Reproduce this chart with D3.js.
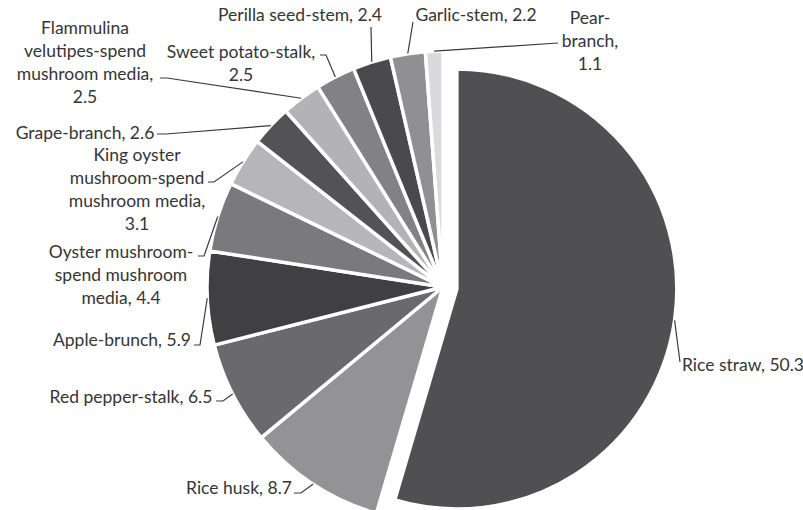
<!DOCTYPE html>
<meta charset='utf-8'>
<body style='margin:0;background:#fff'>
<script src='https://d3js.org/d3.v7.min.js'></script>
<script>
  const categories = ['Rice straw', 'Rice husk', 'Red pepper-stalk', 'Apple-brunch',
    'Oyster mushroom-spend mushroom media', 'King oyster mushroom-spend mushroom media',
    'Grape-branch', 'Flammulina velutipes-spend mushroom media', 'Sweet potato-stalk',
    'Perilla seed-stem', 'Garlic-stem', 'Pear-branch'];
  const values = [50.3, 8.7, 6.5, 5.9, 4.4, 3.1, 2.6, 2.5, 2.5, 2.4, 2.2, 1.1];
  const labelLines = [
    ['Rice straw, 50.3'],
    ['Rice husk, 8.7'],
    ['Red pepper-stalk, 6.5'],
    ['Apple-brunch, 5.9'],
    ['Oyster mushroom-', 'spend mushroom', 'media, 4.4'],
    ['King oyster', 'mushroom-spend', 'mushroom media,', '3.1'],
    ['Grape-branch, 2.6'],
    ['Flammulina', 'velutipes-spend', 'mushroom media,', '2.5'],
    ['Sweet potato-stalk,', '2.5'],
    ['Perilla seed-stem, 2.4'],
    ['Garlic-stem, 2.2'],
    ['Pear-', 'branch,', '1.1']
  ];
  const fills = ['#505052', '#939395', '#6a6a6c', '#404042', '#7a7a7c', '#b6b6b8',
    '#535355', '#b3b3b5', '#828284', '#4a4a4c', '#909092', '#dadadc'];

  // label placement: text centre x, first line centre y, leader points from slice outwards
  const labelLayout = [
    { x: 743, y: 365, lead: [[680, 362]] },
    { x: 239, y: 488, lead: [[301, 493], [294, 493]] },
    { x: 131, y: 397, lead: [[223, 401], [216, 401]] },
    { x: 122, y: 340, lead: [[200, 345], [194, 345]] },
    { x: 121, y: 252, lead: [[204, 256], [198, 256]] },
    { x: 137, y: 155, lead: [[214, 182], [208, 182]] },
    { x: 85, y: 133, lead: [[166, 134], [157, 134]] },
    { x: 85, y: 28, lead: [[167, 78], [160, 78]] },
    { x: 241, y: 52, lead: [[326, 55], [320, 55]] },
    { x: 300, y: 15, lead: [[371, 27]] },
    { x: 476, y: 15, lead: [[413, 22]] },
    { x: 590, y: 18, lead: [[558, 43]] }
  ];

  const width = 803, height = 510;
  const cx = 443, cy = 287;
  const radius = 236, bigRadius = 220, explode = 14;
  const lineGap = 23;

  const svg = d3.select('body').append('svg')
    .attr('width', width)
    .attr('height', height)
    .style('font-family', 'Lato, sans-serif')
    .style('font-size', '17.5px');

  const pie = d3.pie()
    .sort(null)
    .value(d => d);

  const arcs = pie(values);

  const arc = d3.arc().innerRadius(0).outerRadius(radius);
  const bigArc = d3.arc().innerRadius(0).outerRadius(bigRadius);

  const mid = d => (d.startAngle + d.endAngle) / 2;
  const offset = (d, i) => i === 0
    ? [Math.sin(mid(d)) * explode, -Math.cos(mid(d)) * explode]
    : [0, 0];

  const g = svg.append('g')
    .attr('transform', `translate(${cx}, ${cy})`);

  g.selectAll('path.slice')
    .data(arcs)
    .enter().append('path')
      .attr('class', 'slice')
      .attr('transform', (d, i) => `translate(${offset(d, i)})`)
      .attr('d', (d, i) => i === 0 ? bigArc(d) : arc(d))
      .attr('fill', (d, i) => fills[i])
      .attr('stroke', '#fff')
      .attr('stroke-width', 3.5)
      .attr('stroke-linejoin', 'round');

  // leader lines
  const leader = d3.line();
  svg.selectAll('path.leader')
    .data(arcs)
    .enter().append('path')
      .attr('class', 'leader')
      .attr('d', (d, i) => {
        const r = i === 0 ? bigRadius : radius;
        const o = offset(d, i);
        const start = [cx + o[0] + Math.sin(mid(d)) * r, cy + o[1] - Math.cos(mid(d)) * r];
        return leader([start].concat(labelLayout[i].lead));
      })
      .attr('fill', 'none')
      .attr('stroke', '#3a3a3a')
      .attr('stroke-width', 1.2);

  // labels
  const labels = svg.selectAll('text.label')
    .data(labelLines)
    .enter().append('text')
      .attr('class', 'label')
      .attr('text-anchor', 'middle')
      .attr('fill', '#353535')
      .attr('x', (d, i) => labelLayout[i].x)
      .attr('y', (d, i) => labelLayout[i].y);

  labels.selectAll('tspan')
    .data((d, i) => d.map(t => ({ t, i })))
    .enter().append('tspan')
      .attr('x', d => labelLayout[d.i].x)
      .attr('y', (d, j) => labelLayout[d.i].y + j * lineGap)
      .attr('dy', '0.35em')
      .text(d => d.t);
</script>
